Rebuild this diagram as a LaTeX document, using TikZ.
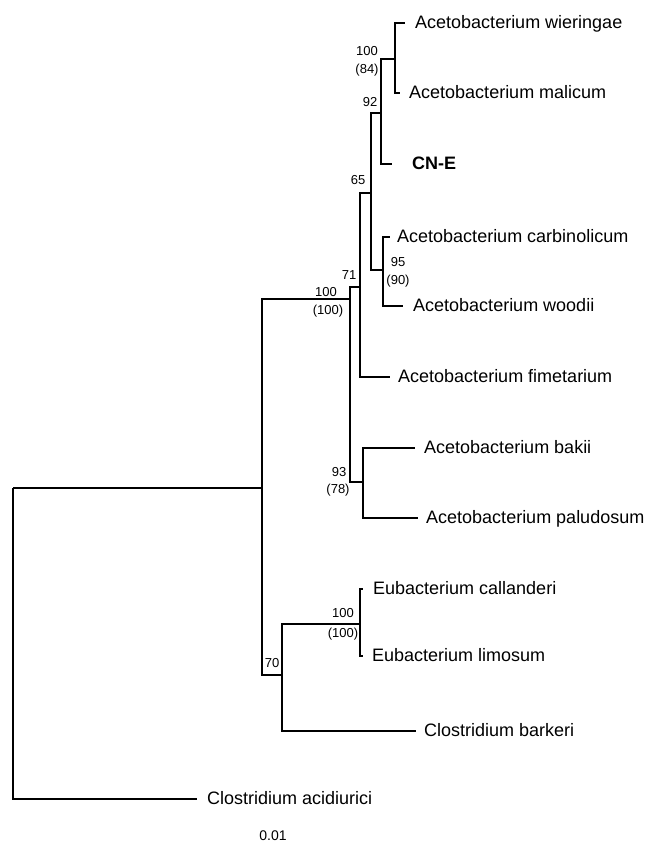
\documentclass[tikz,border=0pt]{standalone}
\usepackage{fontspec}
\setmainfont{Liberation Sans}
\begin{document}
\begin{tikzpicture}[x=1pt, y=-1pt,
  branch/.style={line width=1.7pt},
  taxon/.style={anchor=base west, inner sep=0pt, font=\fontsize{18}{20}\selectfont},
  boot/.style={inner sep=0pt, font=\fontsize{13}{15}\selectfont}]
  \useasboundingbox (0,0) rectangle (651,862);
  % internal nodes (where each clade meets its parent)
  \coordinate (root) at (13,488);
  \coordinate (n1)   at (262,488);
  \coordinate (nA)   at (350,299);
  \coordinate (n71)  at (360,287);
  \coordinate (n65)  at (371,193);
  \coordinate (n92)  at (381,113);
  \coordinate (n84)  at (395,59);
  \coordinate (n95)  at (383,270);
  \coordinate (n93)  at (363,482);
  \coordinate (n70)  at (282,675);
  \coordinate (nE)   at (360,624);
  % branch tips
  \coordinate (tWie) at (405,23);
  \coordinate (tMal) at (400,93);
  \coordinate (tCNE) at (392,164);
  \coordinate (tCar) at (390,237);
  \coordinate (tWoo) at (403,306);
  \coordinate (tFim) at (390,377);
  \coordinate (tBak) at (415,448);
  \coordinate (tPal) at (418,518);
  \coordinate (tCal) at (363,589);
  \coordinate (tLim) at (363,656);
  \coordinate (tBar) at (416,731);
  \coordinate (tAci) at (197,799);
  % taxon names
  \node[taxon] (wie) at (415,28)  {Acetobacterium wieringae};
  \node[taxon] (mal) at (409,98)  {Acetobacterium malicum};
  \node[taxon] (cne) at (412,169) {\bfseries CN-E};
  \node[taxon] (car) at (397,242) {Acetobacterium carbinolicum};
  \node[taxon] (woo) at (413,311) {Acetobacterium woodii};
  \node[taxon] (fim) at (398,382) {Acetobacterium fimetarium};
  \node[taxon] (bak) at (424,453) {Acetobacterium bakii};
  \node[taxon] (pal) at (426,523) {Acetobacterium paludosum};
  \node[taxon] (cal) at (373,594) {Eubacterium callanderi};
  \node[taxon] (lim) at (372,661) {Eubacterium limosum};
  \node[taxon] (bar) at (424,736) {Clostridium barkeri};
  \node[taxon] (aci) at (207,804) {Clostridium acidiurici};
  % branches
  \draw[branch] (root) |- (n1);
  \draw[branch] (root) |- (tAci);
  \draw[branch] (n1) |- (nA);
  \draw[branch] (n1) |- (n70);
  \draw[branch] (nA) |- (n71);
  \draw[branch] (nA) |- (n93);
  \draw[branch] (n71) |- (n65);
  \draw[branch] (n71) |- (tFim);
  \draw[branch] (n65) |- (n92);
  \draw[branch] (n65) |- (n95);
  \draw[branch] (n92) |- (n84);
  \draw[branch] (n92) |- (tCNE);
  \draw[branch] (n84) |- (tWie);
  \draw[branch] (n84) |- (tMal);
  \draw[branch] (n95) |- (tCar);
  \draw[branch] (n95) |- (tWoo);
  \draw[branch] (n93) |- (tBak);
  \draw[branch] (n93) |- (tPal);
  \draw[branch] (n70) |- (nE);
  \draw[branch] (n70) |- (tBar);
  \draw[branch] (nE) |- (tCal);
  \draw[branch] (nE) |- (tLim);
  % bootstrap values
  \node[boot] (b84a) at (367,51)  {100};
  \node[boot] (b84b) at (367,70)  {(84)};
  \node[boot] (b92)  at (370,102) {92};
  \node[boot] (b65)  at (358,180) {65};
  \node[boot] (b95a) at (398,262) {95};
  \node[boot] (b95b) at (398,281) {(90)};
  \node[boot] (b71)  at (349,275) {71};
  \node[boot] (bAa)  at (326,292) {100};
  \node[boot] (bAb)  at (328,311) {(100)};
  \node[boot] (b93a) at (339,472) {93};
  \node[boot] (b93b) at (338,490) {(78)};
  \node[boot] (bEa)  at (343,613) {100};
  \node[boot] (bEb)  at (343,634) {(100)};
  \node[boot] (b70)  at (272,663) {70};
  % scale
  \node[boot, font=\fontsize{14}{16}\selectfont] (scale) at (273,836) {0.01};
\end{tikzpicture}
\end{document}
